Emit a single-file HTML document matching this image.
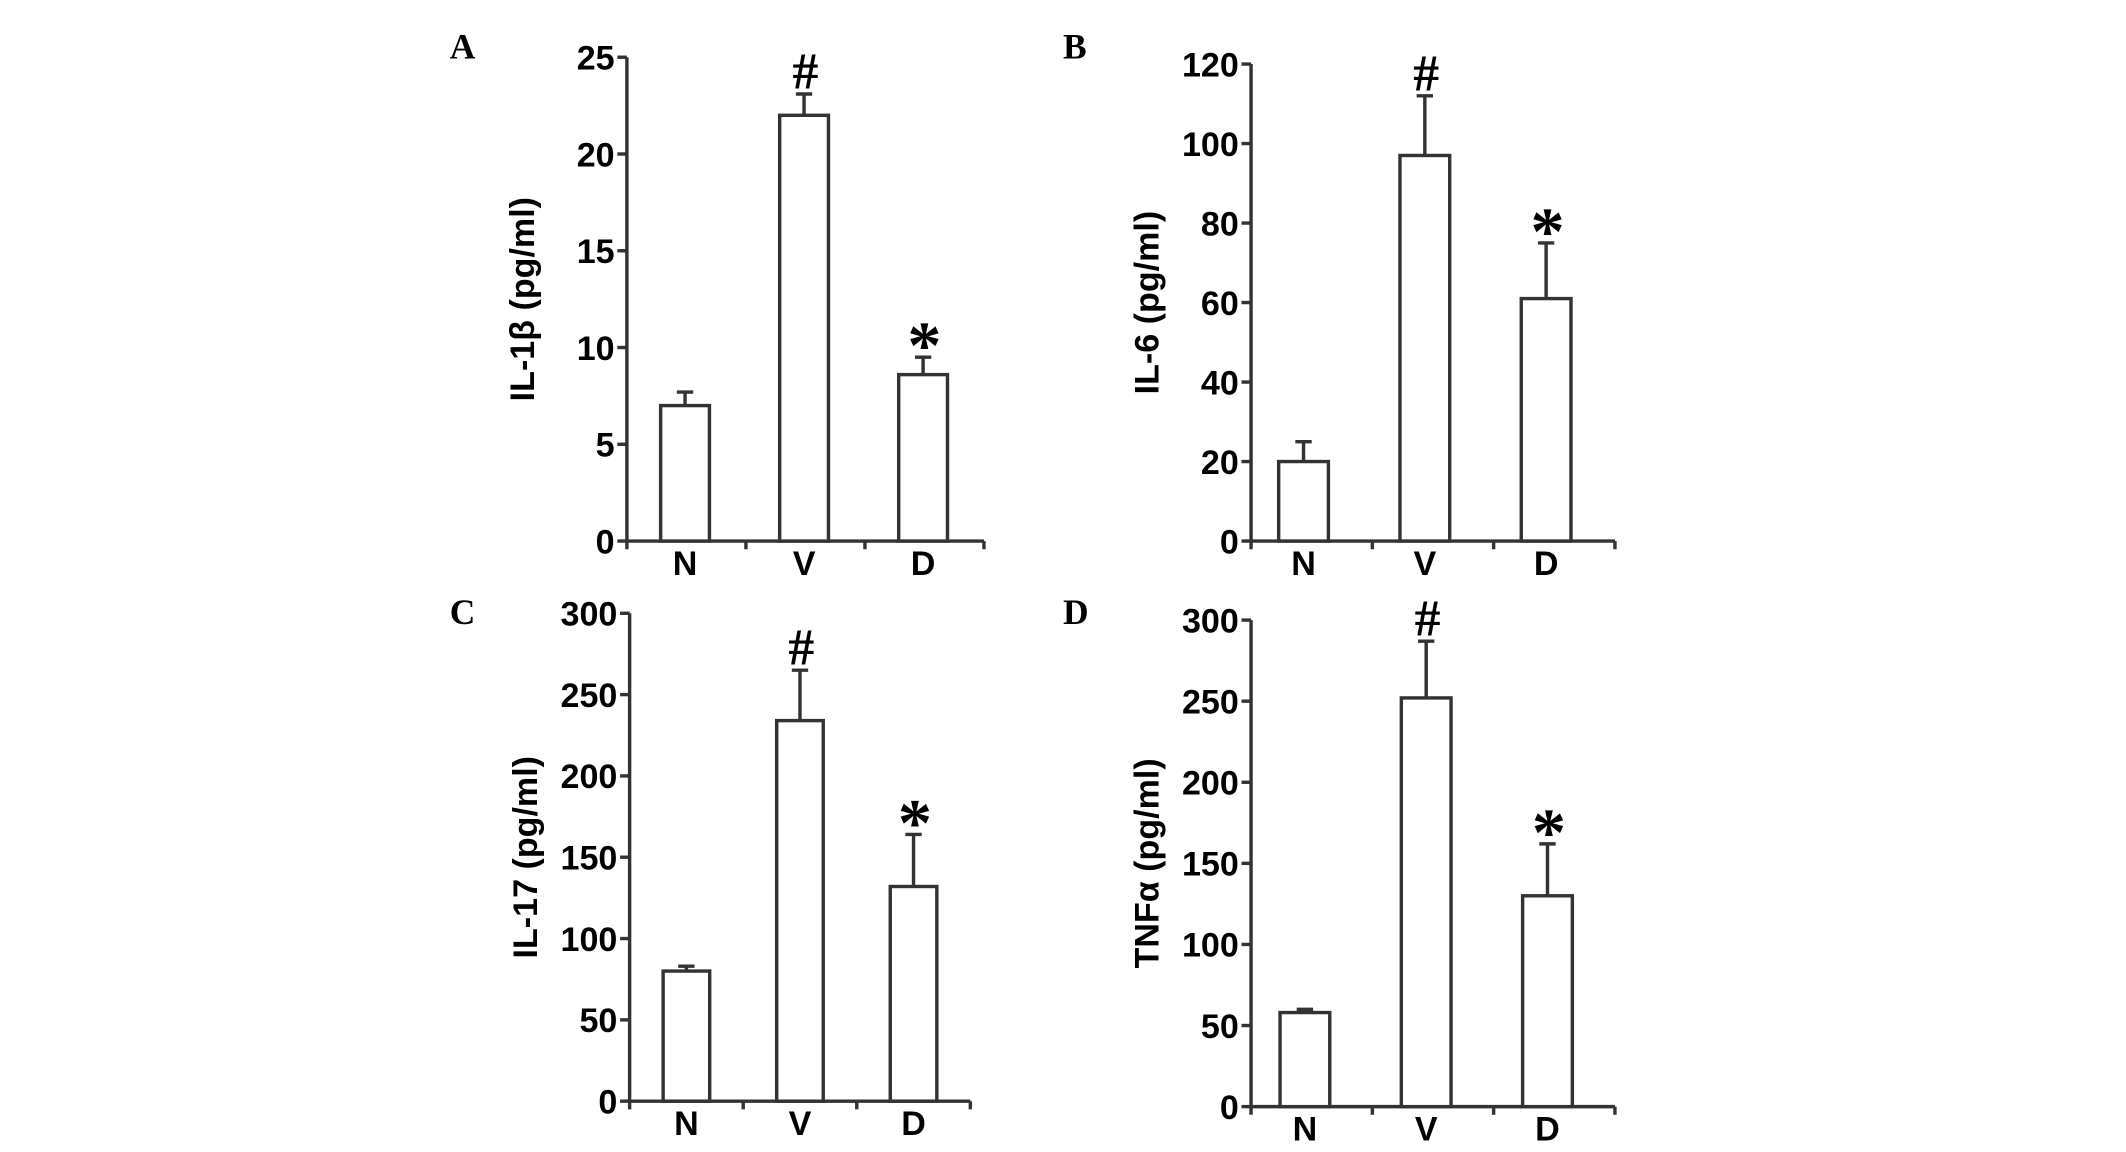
<!DOCTYPE html>
<html><head><meta charset="utf-8"><style>
html,body{margin:0;padding:0;background:#fff;}
svg{display:block;}
text{font-family:"Liberation Sans",Arial,sans-serif;font-weight:bold;fill:#000;}
.letter{font-family:"Liberation Serif",serif;}
</style></head>
<body>
<svg id="fig" width="2126" height="1152" viewBox="0 0 1560 845.3" xmlns="http://www.w3.org/2000/svg"></svg>
<script>
const categories = ["N","V","D"];
const panelLetters = ["A","B","C","D"];
const yTitles = ["IL-1β (pg/ml)","IL-6 (pg/ml)","IL-17 (pg/ml)","TNFα (pg/ml)"];
const valuesA = [7, 22, 8.6];
const errorsA = [0.7, 1.1, 0.9];
const valuesB = [20, 97, 61];
const errorsB = [5, 15, 14];
const valuesC = [80, 234, 132];
const errorsC = [3, 31, 32];
const valuesD = [58, 252, 130];
const errorsD = [2, 35, 32];
const ticksA = [0,5,10,15,20,25];
const ticksB = [0,20,40,60,80,100,120];
const ticksC = [0,50,100,150,200,250,300];
const ticksD = [0,50,100,150,200,250,300];
const marksA = ["","#","*"];
const marksB = ["","#","*"];
const marksC = ["","#","*"];
const marksD = ["","#","*"];

const NS = "http://www.w3.org/2000/svg";
const svg = document.getElementById('fig');
function el(tag, attrs, parent){
  const e = document.createElementNS(NS, tag);
  for (const k in attrs) e.setAttribute(k, attrs[k]);
  (parent||svg).appendChild(e);
  return e;
}
const layouts = [
  {ax:460, top:42, zero:397, right:722, lx:330, ly:43, dx:-1},
  {ax:918, top:47, zero:397, right:1185, lx:780, ly:43, dx:-6},
  {ax:462, top:450, zero:808, right:712, lx:330, ly:458, dx:0},
  {ax:918, top:455, zero:812, right:1185, lx:780, ly:458, dx:-5}
];
const allValues = [valuesA, valuesB, valuesC, valuesD];
const allErrors = [errorsA, errorsB, errorsC, errorsD];
const allTicks = [ticksA, ticksB, ticksC, ticksD];
const allMarks = [marksA, marksB, marksC, marksD];
const col = "#333";

for (let p = 0; p < 4; p++) {
  const L = layouts[p], vals = allValues[p], errs = allErrors[p], ticks = allTicks[p], marks = allMarks[p];
  const g = el('g', {});
  
  
  const ymax = ticks[ticks.length-1];
  const y = v => L.zero - (v / ymax) * (L.zero - L.top);
  const slot = (L.right - L.ax) / 3;
  const xc = i => L.ax + slot * (i + 0.5) + L.dx;
  const bw = slot * 0.41;

  const lt = el('text', {x:L.lx, y:L.ly, 'font-size':26, class:'letter'}, g);
  lt.textContent = panelLetters[p];
  
  

  const ya = el('line', {x1:L.ax, y1:L.top, x2:L.ax, y2:L.zero+6, stroke:col, 'stroke-width':2.5}, g);
  
  
  ticks.forEach(t => {
    el('line', {x1:L.ax-7, y1:y(t), x2:L.ax, y2:y(t), stroke:col, 'stroke-width':2.5}, g);
    const tx = el('text', {x:L.ax-9, y:y(t)+9, 'font-size':25, 'text-anchor':'end'}, g);
    tx.textContent = t;
    
    
  });
  const xa = el('line', {x1:L.ax, y1:L.zero, x2:L.right, y2:L.zero, stroke:col, 'stroke-width':2.5}, g);
  
  
  for (let k = 1; k <= 3; k++) {
    el('line', {x1:L.ax+slot*k, y1:L.zero, x2:L.ax+slot*k, y2:L.zero+6, stroke:col, 'stroke-width':2.5}, g);
  }
  const cy = (L.top + L.zero)/2;
  const tX = L.ax-68;
  const yt = el('text', {x:tX, y:cy, 'font-size':25, 'text-anchor':'middle', transform:`rotate(-90 ${tX} ${cy})`}, g);
  yt.textContent = yTitles[p];
  
  

  categories.forEach((c, i) => {
    const x = xc(i);
    const eb = el('path', {d:`M${x} ${y(vals[i])} V${y(vals[i]+errs[i])} M${x-6} ${y(vals[i]+errs[i])} H${x+6}`, stroke:col, 'stroke-width':2.5, fill:'none'}, g);
    
    
    const r = el('rect', {x:x-bw/2, y:y(vals[i]), width:bw, height:L.zero - y(vals[i]), fill:'#fff', stroke:col, 'stroke-width':2.5}, g);
    
    
    const cl = el('text', {x:x, y:L.zero+25, 'font-size':25, 'text-anchor':'middle'}, g);
    cl.textContent = c;
    
    
    if (marks[i]) {
      const isStar = marks[i] === '*';
      const m = el('text', {x:x+1, y:y(vals[i]+errs[i]) + (isStar ? 8 : -4), 'font-size': isStar ? 50 : 38, 'text-anchor':'middle', class:'letter', 'font-weight':'normal'}, g);
      m.textContent = marks[i];
      
      
    }
  });
}
</script>
</body></html>
